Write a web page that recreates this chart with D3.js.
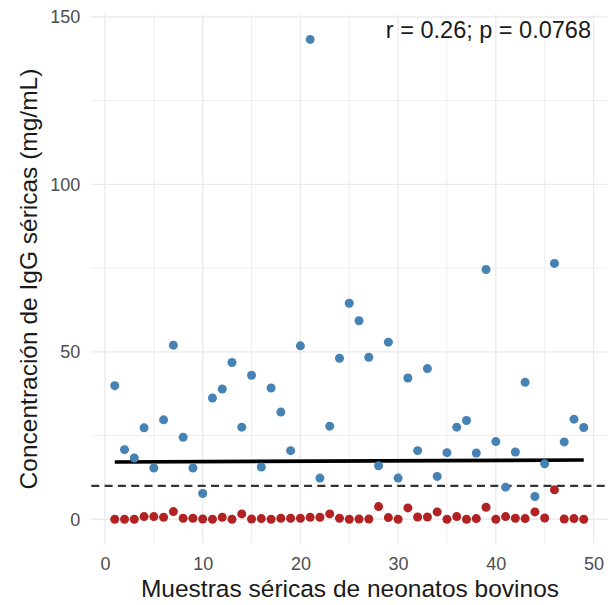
<!DOCTYPE html>
<html>
<head>
<meta charset="utf-8">
<script src="https://cdn.jsdelivr.net/npm/d3@7"></script>
<style>
html,body{margin:0;padding:0;background:#fff;}
svg{display:block;}
text{font-family:"Liberation Sans", Arial, sans-serif;}
</style>
</head>
<body>
<svg id="chart" width="612" height="605"></svg>
<script>
// ---- data ----
const sampleIds = d3.range(1, 50);
const blueValues = [39.9, 20.8, 18.3, 27.3, 15.3, 29.7, 52.0, 24.5, 15.3, 7.7,
  36.2, 38.9, 46.8, 27.5, 43.0, 15.6, 39.2, 32.0, 20.5, 51.8,
  143.3, 12.3, 27.8, 48.1, 64.5, 59.3, 48.4, 16.0, 52.9, 12.3,
  42.2, 20.5, 45.0, 12.8, 19.9, 27.5, 29.5, 19.8, 74.6, 23.2,
  9.6, 20.1, 40.9, 6.8, 16.6, 76.4, 23.1, 29.9, 27.4];
const redValues = [0, 0, 0, 0.8, 0.8, 0.6, 2.3, 0.3, 0.3, 0.1,
  0, 0.6, 0, 1.6, 0.1, 0.2, 0, 0.3, 0.3, 0.3,
  0.6, 0.6, 1.6, 0.3, 0, 0.1, 0.1, 3.8, 0.5, 0,
  3.4, 0.7, 0.7, 2.2, 0, 0.8, 0, 0.2, 3.6, 0,
  0.8, 0.3, 0.2, 2.2, 0.4, 8.8, 0.1, 0.2, 0];
const trendX = [1, 49];
const trendY = [17.1, 17.7];
const thresholdValue = 10;
const xTicks = [0, 10, 20, 30, 40, 50];
const xMinorTicks = [5, 15, 25, 35, 45];
const yTicks = [0, 50, 100, 150];
const yMinorTicks = [25, 75, 125];
const annotationText = "r = 0.26; p = 0.0768";
const xTitle = "Muestras séricas de neonatos bovinos";
const yTitle = "Concentración de IgG séricas (mg/mL)";

// ---- layout ----
const svg = d3.select("#chart");
const x = d3.scaleLinear().domain([-1.4, 51.4]).range([91.3, 607.2]);
const y = d3.scaleLinear().domain([-7.2, 150.7]).range([543.4, 14.6]);
const [x0, x1] = x.range();
const [y0, y1] = y.range();

// grid
const grid = svg.append("g");
grid.selectAll(".ymin").data(yMinorTicks).enter().append("line")
  .attr("x1", x0).attr("x2", x1).attr("y1", d => y(d)).attr("y2", d => y(d))
  .attr("stroke", "#EBEBEB").attr("stroke-width", 0.8);
grid.selectAll(".xmin").data(xMinorTicks).enter().append("line")
  .attr("y1", y0).attr("y2", y1).attr("x1", d => x(d)).attr("x2", d => x(d))
  .attr("stroke", "#EBEBEB").attr("stroke-width", 0.8);
grid.selectAll(".ymaj").data(yTicks).enter().append("line")
  .attr("x1", x0).attr("x2", x1).attr("y1", d => y(d)).attr("y2", d => y(d))
  .attr("stroke", "#EBEBEB").attr("stroke-width", 1.4);
grid.selectAll(".xmaj").data(xTicks).enter().append("line")
  .attr("y1", y0).attr("y2", y1).attr("x1", d => x(d)).attr("x2", d => x(d))
  .attr("stroke", "#EBEBEB").attr("stroke-width", 1.4);

// axes
const yAxis = svg.append("g").attr("transform", `translate(${x0},0)`)
  .call(d3.axisLeft(y).tickValues(yTicks).tickSize(0).tickPadding(11).tickFormat(d3.format("d")));
const xAxis = svg.append("g").attr("transform", `translate(0,${y0})`)
  .call(d3.axisBottom(x).tickValues(xTicks).tickSize(0).tickPadding(14).tickFormat(d3.format("d")));
[yAxis, xAxis].forEach(a => {
  a.select(".domain").remove();
  a.selectAll("text").attr("fill", "#4D4D4D").style("font-size", "18px")
    .style("font-family", '"Liberation Sans", Arial, sans-serif');
});

// threshold dashed line
svg.append("line")
  .attr("x1", x0).attr("x2", x1)
  .attr("y1", y(thresholdValue)).attr("y2", y(thresholdValue))
  .attr("stroke", "#333").attr("stroke-width", 2.2).attr("stroke-dasharray", "8,5.3");

// trend line
svg.append("path")
  .datum(trendX.map((d, i) => [d, trendY[i]]))
  .attr("d", d3.line().x(d => x(d[0])).y(d => y(d[1])))
  .attr("fill", "none").attr("stroke", "#000").attr("stroke-width", 3.6);

// points
svg.append("g").selectAll("circle").data(sampleIds).enter().append("circle")
  .attr("cx", d => x(d)).attr("cy", (d, i) => y(blueValues[i])).attr("r", 4.5)
  .attr("fill", "#4682B4");
svg.append("g").selectAll("circle").data(sampleIds).enter().append("circle")
  .attr("cx", d => x(d)).attr("cy", (d, i) => y(redValues[i])).attr("r", 4.5)
  .attr("fill", "#B22222");

// annotation
svg.append("text").attr("x", 591).attr("y", 38.3).attr("text-anchor", "end")
  .attr("fill", "#1a1a1a").style("font-size", "23.5px").text(annotationText);

// titles
svg.append("text").attr("x", 350).attr("y", 597)
  .attr("text-anchor", "middle").attr("fill", "#1a1a1a").style("font-size", "24.5px").text(xTitle);
svg.append("text").attr("transform", `translate(37,${279}) rotate(-90)`)
  .attr("text-anchor", "middle").attr("fill", "#1a1a1a").style("font-size", "24.5px").text(yTitle);
</script>
</body>
</html>
